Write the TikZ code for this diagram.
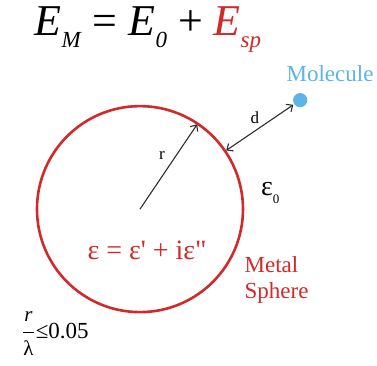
\documentclass[tikz,border=0pt]{standalone}
\usepackage{fontspec}
\setmainfont{Liberation Serif}
\usetikzlibrary{arrows.meta,positioning}

\definecolor{sphred}{RGB}{208,42,42}
\definecolor{molblue}{RGB}{92,180,232}
\definecolor{arrgray}{RGB}{45,45,45}

\newcommand{\fsz}[2]{\fontsize{#1}{#2}\selectfont}
\newcommand{\lowsub}[1]{\raisebox{-0.28em}{\fsz{23pt}{23pt}#1}}

\tikzset{
  lbl/.style={inner sep=0pt},
  radarrow/.style={arrgray, line width=1.1pt, -{Straight Barb[length=5pt,width=9pt]}},
  dimarrow/.style={arrgray, line width=1.1pt, {Straight Barb[length=5pt,width=9pt]}-{Straight Barb[length=5pt,width=9pt]}},
}

\begin{document}
\begin{tikzpicture}
  \useasboundingbox (0,0) rectangle (13.25,12.83);

  % Nodes
  \node (sphere) at (4.92,5.48) [circle, draw=sphred, line width=2.6pt, minimum size=7.24cm, inner sep=0pt] {};
  \node (mol) at (10.55,9.31) [circle, fill=molblue, minimum size=0.5cm, inner sep=0pt] {};
  \node (molname) at (11.6,10.23) [lbl, molblue, font=\fsz{23pt}{26pt}] {Molecule};

  \node (energy) at (5.2,11.8) [lbl, font=\fsz{44pt}{48pt}]
    {\textit{E}\lowsub{\textit{M}} = \textit{E}\lowsub{\textit{0}} + \textcolor{sphred}{\textit{E}\lowsub{\textit{sp}}}};

  \node (rlabel) at (5.69,7.38) [lbl, font=\fsz{17pt}{20pt}] {r};
  \node (dlabel) at (8.96,8.68) [lbl, font=\fsz{17pt}{20pt}] {d};
  \node (epsout) at (9.5,6.05) [lbl, font=\fsz{28pt}{30pt}] {ε\lowsub{\fsz{13pt}{13pt}0}};
  \node (epsin) at (5.17,4.04) [lbl, sphred, font=\fsz{28pt}{30pt}]
    {ε = ε\textquotesingle{} + iε\textquotedbl};
  \node (metal) at (9.72,2.99) [lbl, sphred, align=left, font=\fsz{23pt}{26pt}] {Metal\\Sphere};
  \node (ratio) at (1.95,1.12) [lbl, font=\fsz{23pt}{24pt}]
    {$\displaystyle\frac{\mbox{\fsz{21pt}{21pt}\itshape r}}{\mbox{\fsz{21pt}{21pt}λ}}$\kern1pt≤0.05};

  % Edges
  \draw[radarrow, shorten >=2pt] (sphere.center) -- (sphere.56);
  \draw[dimarrow, shorten >=1pt] (sphere) -- (mol);
\end{tikzpicture}
\end{document}
